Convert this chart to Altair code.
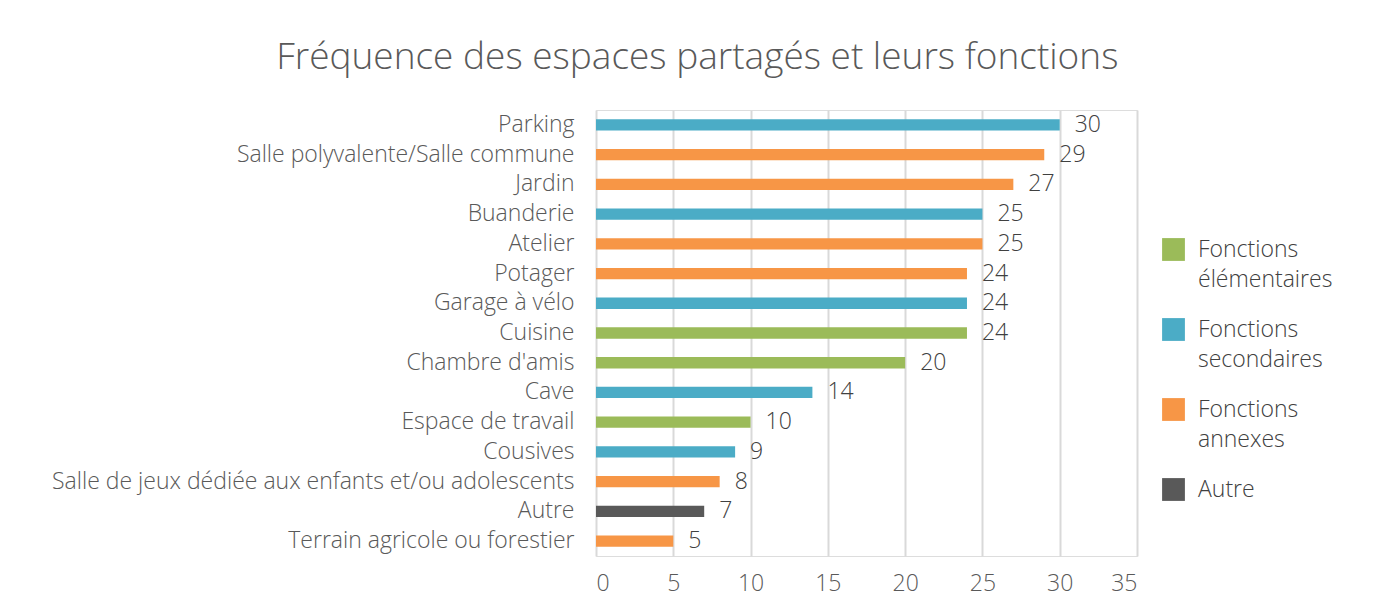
import altair as alt
import pandas as pd

categories = ["Parking", "Salle polyvalente/Salle commune", "Jardin", "Buanderie", "Atelier",
              "Potager", "Garage à vélo", "Cuisine", "Chambre d'amis", "Cave",
              "Espace de travail", "Cousives", "Salle de jeux dédiée aux enfants et/ou adolescents",
              "Autre", "Terrain agricole ou forestier"]
values = [30, 29, 27, 25, 25, 24, 24, 24, 20, 14, 10, 9, 8, 7, 5]
groups = ["Fonctions secondaires", "Fonctions annexes", "Fonctions annexes", "Fonctions secondaires",
          "Fonctions annexes", "Fonctions annexes", "Fonctions secondaires", "Fonctions élémentaires",
          "Fonctions élémentaires", "Fonctions secondaires", "Fonctions élémentaires",
          "Fonctions secondaires", "Fonctions annexes", "Autre", "Fonctions annexes"]
legend_order = ["Fonctions élémentaires", "Fonctions secondaires", "Fonctions annexes", "Autre"]
legend_colors = ["#9BBB59", "#4BACC6", "#F79646", "#595959"]
x_ticks = [0, 5, 10, 15, 20, 25, 30, 35]

df = pd.DataFrame({"cat": categories, "val": values, "grp": groups})

FONT = "Open Sans"
TXT = "#595959"
FS = 23

y_enc = alt.Y("cat:N", sort=categories, title=None,
              scale=alt.Scale(paddingInner=0.62, paddingOuter=0.31),
              axis=alt.Axis(domain=False, ticks=False, labelPadding=22, labelFontSize=FS,
                            labelColor=TXT, labelFont=FONT, labelFontWeight=300, labelLimit=700))
x_enc = alt.X("val:Q", title=None, scale=alt.Scale(domain=[0, 35], nice=False),
              axis=alt.Axis(values=x_ticks, domain=False, ticks=False, grid=True, gridColor="#D9D9D9",
                            gridWidth=2, labelPadding=16, labelFontSize=FS, labelColor=TXT,
                            labelFont=FONT, labelFontWeight=300))

bars = alt.Chart(df).mark_bar().encode(
    y=y_enc, x=x_enc,
    color=alt.Color("grp:N", scale=alt.Scale(domain=legend_order, range=legend_colors),
                    legend=alt.Legend(title=None, orient="none", legendX=566, legendY=128,
                                      symbolType="square", symbolSize=520, symbolStrokeWidth=0,
                                      labelFontSize=FS, labelColor="#404040", labelFont=FONT,
                                      labelFontWeight=300, labelOffset=13, rowPadding=26,
                                      labelExpr="datum.label == 'Autre' ? 'Autre' : split(datum.label, ' ')",
                                      labelLimit=300))
)

labels = alt.Chart(df).mark_text(align="left", baseline="middle", dx=15, fontSize=FS,
                                 color="#404040", font=FONT, fontWeight=300).encode(
    y=alt.Y("cat:N", sort=categories), x="val:Q", text="val:Q")

chart = (bars + labels).properties(
    width=541, height=446,
    title=alt.TitleParams("Fréquence des espaces partagés et leurs fonctions", fontSize=37,
                          font=FONT, fontWeight=300, color=TXT, anchor="middle", frame="bounds",
                          offset=33, dx=5),
    padding={"left": 43, "top": 31, "right": 5, "bottom": 2},
).configure_view(strokeWidth=0, stroke="transparent").configure(
    background="white", style={"guide-label": {"lineHeight": 30}})

chart.save("out.html", embed_options={"renderer": "svg", "actions": False})
